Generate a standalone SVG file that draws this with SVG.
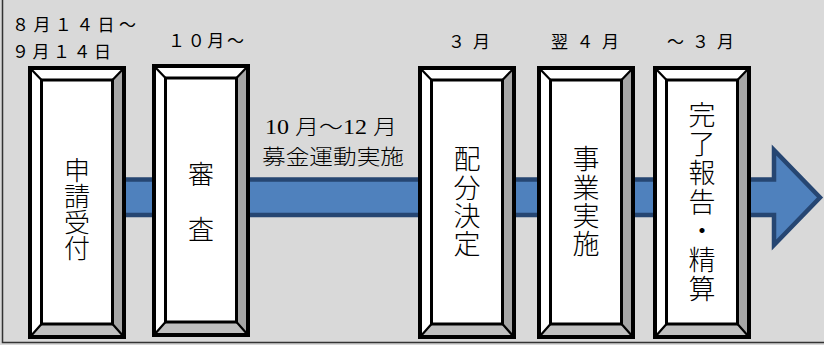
<svg xmlns="http://www.w3.org/2000/svg" xmlns:xlink="http://www.w3.org/1999/xlink" width="824" height="345" viewBox="0 0 824 345">
<style>
.lbl{font-family:"Noto Sans CJK JP","Noto Sans",sans-serif;font-size:17px;fill:#000}
.vt{font-family:"Noto Sans CJK JP","Noto Sans",sans-serif;font-weight:300;fill:#000;writing-mode:vertical-rl;text-anchor:start}
.mid{font-family:"Liberation Serif","Noto Sans CJK JP",serif;font-size:21px;font-weight:300;fill:#000}
.arrow{fill:#4f81bd;stroke:#264672;stroke-width:4.5;stroke-linejoin:miter}
</style>
<defs>
<g id="bevel">
<path d="M2,2 L96,2 L84.5,14 L13.5,14 Z" fill="#ffffff"/>
<path d="M2,2 L13.5,14 L13.5,258 L2,271 Z" fill="#ffffff"/>
<path d="M96,2 L96,271 L84.5,258 L84.5,14 Z" fill="#a6a6a6"/>
<path d="M2,271 L96,271 L84.5,258 L13.5,258 Z" fill="#bfbfbf"/>
<rect x="13.5" y="14" width="71" height="244" fill="#ffffff" stroke="#000" stroke-width="3"/>
<path d="M2,2 L13.5,14 M96,2 L84.5,14 M2,271 L13.5,258 M96,271 L84.5,258" stroke="#000" stroke-width="2.2" fill="none"/>
<rect x="2" y="2" width="94" height="269" fill="none" stroke="#000" stroke-width="4"/>
</g>
</defs>
<rect x="0" y="0" width="824" height="345" fill="#d9d9d9"/>
<path d="M2.5,0 V342.5 H824" fill="none" stroke="#333" stroke-width="1.5"/>
<g id="connectors">
<path class="arrow" d="M70,179.5 H774 V150 L820,197.5 L774,245 V215 H70 Z"/>
<text class="mid" x="265" y="134" textLength="132" lengthAdjust="spacingAndGlyphs">10 月～12 月</text>
<text class="mid" x="262" y="164" textLength="142" lengthAdjust="spacingAndGlyphs">募金運動実施</text>
</g>
<g id="node-shinsei">
<text class="lbl" x="12" y="31" textLength="124" lengthAdjust="spacing">８月１４日～</text>
<text class="lbl" x="12" y="58" textLength="99" lengthAdjust="spacing">９月１４日</text>
<use xlink:href="#bevel" x="28" y="66"/>
<text class="vt" x="77" y="157" font-size="26">申請受付</text>
</g>
<g id="node-shinsa">
<text class="lbl" x="168" y="47" textLength="76" lengthAdjust="spacing">１０月～</text>
<use xlink:href="#bevel" x="152" y="64"/>
<text class="vt" x="201" y="160.7" font-size="26" letter-spacing="1.75">審　査</text>
</g>
<g id="node-haibun">
<text class="lbl" x="448" y="48" textLength="42" lengthAdjust="spacing">３月</text>
<use xlink:href="#bevel" x="418" y="66"/>
<text class="vt" x="467" y="145.7" font-size="27" letter-spacing="1.25">配分決定</text>
</g>
<g id="node-jigyou">
<text class="lbl" x="551" y="48" textLength="68" lengthAdjust="spacing">翌４月</text>
<use xlink:href="#bevel" x="537" y="66"/>
<text class="vt" x="586" y="145.7" font-size="27" letter-spacing="1.25">事業実施</text>
</g>
<g id="node-kanryou">
<text class="lbl" x="667" y="48" textLength="67" lengthAdjust="spacing">～３月</text>
<use xlink:href="#bevel" x="653" y="66"/>
<text class="vt" x="702" y="101.7" font-size="27" letter-spacing="1.9">完了報告・精算</text>
</g>
</svg>
